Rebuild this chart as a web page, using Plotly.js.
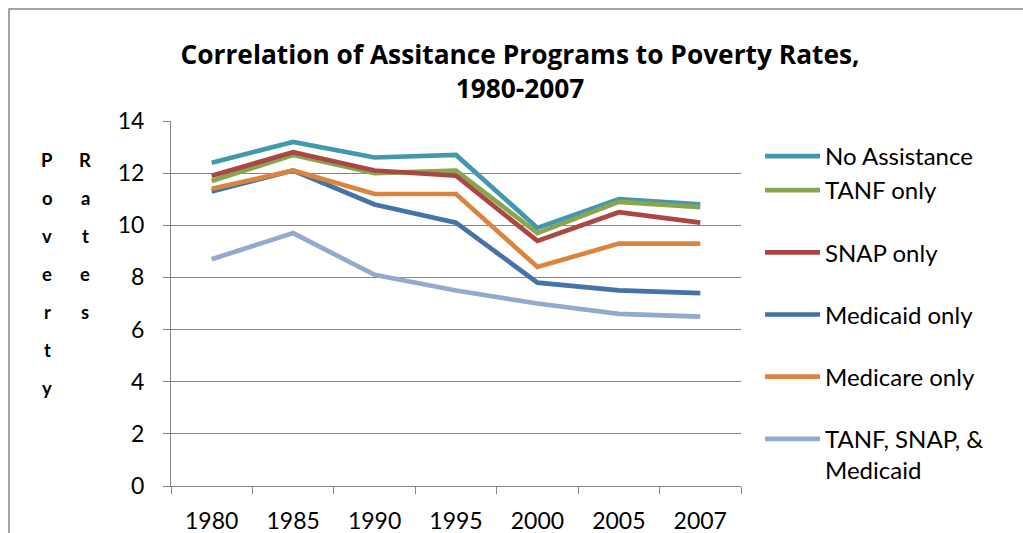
<!DOCTYPE html>
<html>
<head>
<meta charset="utf-8">
<script src="https://cdn.plot.ly/plotly-3.0.1.min.js"></script>
<style>
  html, body { margin: 0; padding: 0; background: #ffffff; }
  #chart { width: 1023px; height: 533px; }
</style>
</head>
<body>
<div id="chart"></div>
<script>
// ---- data ----
const years = ["1980", "1985", "1990", "1995", "2000", "2005", "2007"];
const seriesNames = ["No Assistance", "TANF only", "SNAP only", "Medicaid only", "Medicare only", "TANF, SNAP, &<br>Medicaid"];
const noAssistance = [12.4, 13.2, 12.6, 12.7, 9.9, 11.0, 10.8];
const tanfOnly     = [11.7, 12.7, 12.0, 12.1, 9.7, 10.9, 10.7];
const snapOnly     = [11.9, 12.8, 12.1, 11.9, 9.4, 10.5, 10.1];
const medicaidOnly = [11.3, 12.1, 10.8, 10.1, 7.8, 7.5, 7.4];
const medicareOnly = [11.4, 12.1, 11.2, 11.2, 8.4, 9.3, 9.3];
const combined     = [8.7, 9.7, 8.1, 7.5, 7.0, 6.6, 6.5];
const yTicks = [0, 2, 4, 6, 8, 10, 12, 14];
const titleLines = ["Correlation of Assitance Programs to Poverty Rates,", "1980-2007"];
const yTitleWords = ["Poverty", "Rates"];

// ---- styling ----
const colors = ["#4198AF", "#89A54E", "#AA4643", "#4572A7", "#DB843D", "#93A9CF"];
const allSeries = [noAssistance, tanfOnly, snapOnly, medicaidOnly, medicareOnly, combined];
const FONT = "Lato, 'Open Sans', sans-serif";
const TITLE_FONT = "'Open Sans', Lato, sans-serif";

// plot area in pixels
const W = 1023, H = 533;
const L = 171, R = 741, T = 121, B = 486;
const px2x = p => (p - L) / (R - L);
const px2y = p => (B - p) / (B - T);

const traces = allSeries.map((vals, i) => ({
  type: "scatter",
  mode: "lines",
  x: years,
  y: vals,
  name: seriesNames[i],
  line: { color: colors[i], width: 4.7 },
  legend: i === 0 ? "legend" : "legend2",
  legendgroup: "g" + i,
  hoverinfo: "x+y+name"
}));

const annotations = [];
yTitleWords.forEach((word, c) => {
  const colX = [47, 85][c];
  word.split("").forEach((ch, k) => {
    annotations.push({
      xref: "paper", yref: "paper",
      x: px2x(colX), y: px2y(160 + k * 38),
      xanchor: "center", yanchor: "middle",
      text: ch, showarrow: false,
      font: { family: FONT, size: 18.5, color: "#000000", weight: "bold" }
    });
  });
});

const legendBase = {
  xref: "paper", yref: "paper",
  xanchor: "left", yanchor: "top",
  bgcolor: "rgba(0,0,0,0)", borderwidth: 0,
  font: { family: FONT, size: 24, color: "#000000" },
  traceorder: "grouped",
  valign: "top",
  itemwidth: 55
};

const layout = {
  width: W, height: H,
  paper_bgcolor: "#ffffff", plot_bgcolor: "#ffffff",
  margin: { l: L, r: W - R, t: T, b: H - B, pad: 0 },
  title: {
    text: "<b>" + titleLines.join("<br>") + "</b>",
    font: { family: TITLE_FONT, size: 26.3, color: "#000000" },
    xref: "container", yref: "container",
    x: 520 / W, y: 1 - 64 / H, xanchor: "center", yanchor: "middle"
  },
  xaxis: {
    type: "category",
    range: [-0.5, years.length - 0.5],
    showline: true, linecolor: "#868686", linewidth: 1,
    ticks: "outside", tickson: "boundaries", ticklen: 7, tickcolor: "#868686", tickwidth: 1,
    showgrid: false, zeroline: false,
    tickfont: { family: FONT, size: 23, color: "#000000" },
    ticklabelstandoff: 14,
    fixedrange: true
  },
  yaxis: {
    range: [0, 14],
    tickvals: yTicks,
    ticktext: yTicks.map(String),
    showline: true, linecolor: "#868686", linewidth: 1,
    ticks: "outside", ticklen: 7, tickcolor: "#868686", tickwidth: 1,
    showgrid: true, gridcolor: "#868686", gridwidth: 1,
    zeroline: false,
    tickfont: { family: FONT, size: 23, color: "#000000" },
    ticklabelstandoff: 14,
    fixedrange: true
  },
  showlegend: true,
  legend: Object.assign({}, legendBase, { x: px2x(760), y: px2y(134) }),
  legend2: Object.assign({}, legendBase, { x: px2x(760), y: px2y(168), tracegroupgap: 28 }),
  annotations: annotations,
  shapes: [
    { type: "path", xref: "paper", yref: "paper",
      path: "M " + px2x(9) + "," + px2y(540) + " L " + px2x(9) + "," + px2y(9) + " L " + px2x(1030) + "," + px2y(9),
      line: { color: "#868686", width: 1.5 } }
  ]
};

Plotly.newPlot("chart", traces, layout, { displayModeBar: false, staticPlot: true });
</script>
</body>
</html>
